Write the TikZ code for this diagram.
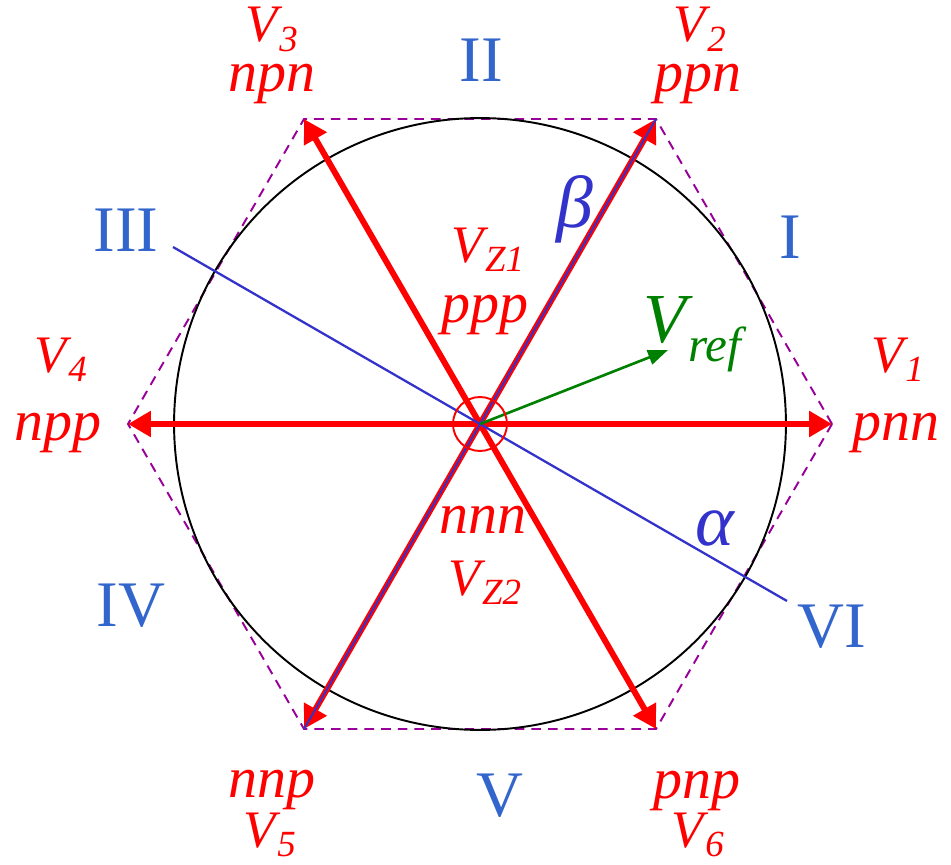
\documentclass[tikz,border=0pt]{standalone}
\usepackage{fontspec}
\setmainfont{Liberation Serif}
\usetikzlibrary{arrows.meta}
\definecolor{vred}{HTML}{FF0000}
\definecolor{axblue}{HTML}{3333CC}
\definecolor{secblue}{HTML}{3366CC}
\definecolor{hexpurple}{HTML}{990099}
\definecolor{refgreen}{HTML}{008000}

\begin{document}
\begin{tikzpicture}[
  x = 0.02cm, y = -0.02cm,
  vec/.style    = {-{Triangle[length=0.46cm, width=0.5cm]}, line width=3.4pt, color=vred},
  axis/.style   = {line width=1.3pt, color=axblue},
  hexa/.style   = {dashed, dash pattern=on 5.5pt off 4pt, line width=1.1pt, color=hexpurple},
  refvec/.style = {-{Triangle[length=0.4cm, width=0.3cm]}, line width=1.5pt, color=refgreen},
  state/.style  = {text=vred, font=\fontsize{33}{33}\selectfont\itshape, anchor=base, inner sep=0pt},
  vlab/.style   = {text=vred, font=\fontsize{30}{30}\selectfont\itshape, anchor=base, inner sep=0pt},
  sector/.style = {text=secblue, font=\fontsize{37}{37}\selectfont, anchor=base, inner sep=0pt},
  greek/.style  = {text=axblue, font=\fontsize{42}{42}\selectfont\itshape, anchor=base, inner sep=0pt},
]
  \useasboundingbox (0,0) rectangle (951,865);

  % hexagon corners
  \coordinate (O)  at (480,424);
  \coordinate (v1) at (832,424);
  \coordinate (v2) at (656,119);
  \coordinate (v3) at (304,119);
  \coordinate (v4) at (128,424);
  \coordinate (v5) at (304,729);
  \coordinate (v6) at (656,729);
  \coordinate (a1) at (173,247);
  \coordinate (a2) at (787,601);
  \coordinate (ref) at (668,350);

  \draw[hexa] (v1) -- (v2) -- (v3) -- (v4) -- (v5) -- (v6) -- cycle;
  \draw[black, line width=1.1pt] (O) circle[radius=6.12cm];

  % switching vectors
  \draw[vec] (O) -- (v1);
  \draw[vec] (O) -- (v2);
  \draw[vec] (O) -- (v3);
  \draw[vec] (O) -- (v4);
  \draw[vec] (O) -- (v5);
  \draw[vec] (O) -- (v6);

  \draw[axis] (a1) -- (a2);
  \draw[axis, line width=1.1pt] (v5) -- (v2);
  \draw[refvec] (O) -- (ref);
  \draw[vred, line width=1.1pt] (O) circle[radius=0.54cm];

  % states
  \node[state] (npn) at (272,92)  {npn};
  \node[vlab]  (V3)  at (272,42)  {V\kern1pt\textsubscript{3}};
  \node[state] (ppn) at (698,92)  {ppn};
  \node[vlab]  (V2)  at (700,42)  {V\kern1pt\textsubscript{2}};
  \node[state] (npp) at (58,440)  {npp};
  \node[vlab]  (V4)  at (61,372)  {V\kern1pt\textsubscript{4}};
  \node[state] (pnn) at (896,440) {pnn};
  \node[vlab]  (V1)  at (898,372) {V\kern1pt\textsubscript{1}};
  \node[state] (ppp) at (485,322) {ppp};
  \node[vlab]  (VZ1) at (488,262) {V\kern1pt\textsubscript{Z1}};
  \node[state] (nnn) at (483,533) {nnn};
  \node[vlab]  (VZ2) at (485,595) {V\kern1pt\textsubscript{Z2}};
  \node[state] (nnp) at (272,797) {nnp};
  \node[vlab]  (V5)  at (270,847) {V\kern1pt\textsubscript{5}};
  \node[state] (pnp) at (697,798) {pnp};
  \node[vlab]  (V6)  at (698,847) {V\kern1pt\textsubscript{6}};

  \node[text=refgreen, font=\fontsize{40}{40}\selectfont\itshape, anchor=base, inner sep=0pt]
    (Vref) at (693,342) {V\kern1pt\textsubscript{ref}};
  \node[greek] (beta)  at (575,228) {β};
  \node[greek] (alpha) at (715,545) {α};

  % sectors
  \node[sector] (sI)   at (790,258) {I};
  \node[sector] (sII)  at (481,82)  {II};
  \node[sector] (sIII) at (126,252) {III};
  \node[sector] (sIV)  at (131,626) {IV};
  \node[sector] (sV)   at (500,816) {V};
  \node[sector] (sVI)  at (832,647) {VI};
\end{tikzpicture}
\end{document}
